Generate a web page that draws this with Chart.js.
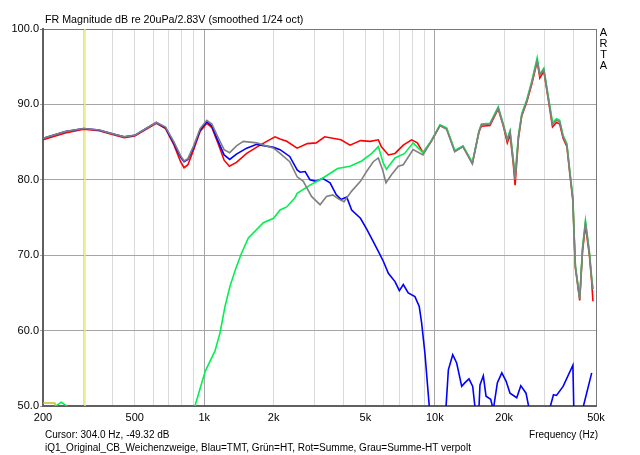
<!DOCTYPE html>
<html>
<head>
<meta charset="utf-8">
<script src="https://cdn.jsdelivr.net/npm/chart.js@4.4.1/dist/chart.umd.min.js"></script>
<style>
  body { margin: 0; background: #fff; }
  #wrap { position: relative; width: 640px; height: 455px; background: #fff; font-family: "Liberation Sans", Arial, sans-serif; font-size: 10px; color: #000; }
  #wrap canvas { position: absolute; left: 0; top: 0; }
  .txt { position: absolute; white-space: nowrap; line-height: 13px; }
  #arta { position: absolute; left: 599px; top: 27px; line-height: 11px; font-size: 11px; text-align: center; width: 9px; }
</style>
</head>
<body>
<div id="wrap">
  <canvas id="myFrChart" width="640" height="455"></canvas>
  <div class="txt" style="left:45px; top:13px; font-size:10.7px;">FR Magnitude dB re 20uPa/2.83V (smoothed 1/24 oct)</div>
  <div id="arta">A<br>R<br>T<br>A</div>
  <div class="txt" style="left:45px; top:428px;">Cursor: 304.0 Hz, -49.32 dB</div>
  <div class="txt" style="right:42px; top:428px;">Frequency (Hz)</div>
  <div class="txt" style="left:45px; top:441px;">iQ1_Original_CB_Weichenzweige, Blau=TMT, Grün=HT, Rot=Summe, Grau=Summe-HT verpolt</div>
</div>
<script>
// tick values / labels
var xTicks = [200, 300, 400, 500, 600, 700, 800, 900, 1000, 2000, 3000, 4000, 5000, 6000, 7000, 8000, 9000, 10000, 20000, 30000, 40000, 50000];
var xLabels = {200: '200', 500: '500', 1000: '1k', 2000: '2k', 5000: '5k', 10000: '10k', 20000: '20k', 50000: '50k'};
var cursorFreq = 304;

// Rot = Summe
var redFreq = [200, 250, 300, 350, 400, 450, 500, 560, 620, 680, 740, 790, 818, 850, 900, 960, 1026, 1080, 1150, 1220, 1286, 1380, 1528, 1746, 2028, 2133, 2280, 2530, 2800, 3060, 3330, 3920, 4290, 4760, 5250, 5690, 5860, 6290, 6720, 7300, 7930, 8400, 8890, 9650, 10530, 11250, 12200, 13250, 14550, 15550, 15930, 17340, 18840, 19800, 20620, 21200, 21910, 22290, 23050, 23830, 25030, 26290, 27790, 28540, 29700, 31000, 32400, 33700, 34800, 36000, 37400, 38400, 39700, 40100, 40700, 42500, 43700, 45000, 46800, 47900, 48500];
var redDb = [85.3, 86.2, 86.7, 86.5, 86.0, 85.6, 85.8, 86.7, 87.5, 86.8, 84.6, 82.4, 81.6, 82.0, 84.0, 86.4, 87.5, 86.9, 84.8, 82.6, 81.8, 82.3, 83.5, 84.6, 85.7, 85.4, 85.1, 84.2, 84.8, 84.9, 85.7, 85.3, 84.6, 85.2, 85.1, 85.3, 84.4, 83.3, 83.5, 84.6, 85.3, 84.9, 83.6, 85.1, 87.2, 86.8, 83.8, 84.4, 82.2, 86.4, 87.1, 87.2, 89.4, 87.2, 84.9, 86.0, 82.0, 79.3, 85.5, 88.5, 90.3, 92.6, 95.7, 93.5, 94.4, 90.8, 87.0, 87.6, 87.4, 85.5, 84.4, 81.1, 77.2, 73.2, 68.3, 64.0, 70.5, 74.0, 70.0, 66.5, 63.9];

// Grau = Summe-HT verpolt
var grayFreq = [200, 250, 300, 350, 400, 450, 500, 560, 620, 680, 740, 790, 818, 850, 900, 960, 1026, 1080, 1150, 1220, 1290, 1380, 1478, 1689, 2000, 2133, 2349, 2530, 2690, 2920, 3180, 3390, 3610, 3850, 4040, 4360, 4760, 5060, 5410, 5690, 5940, 6140, 6500, 6950, 7300, 8050, 8890, 9650, 10530, 11250, 12200, 13250, 14550, 15550, 15930, 17340, 18840, 19800, 20620, 21200, 21910, 22290, 23050, 23830, 25030, 26290, 27790, 28540, 29700, 31000, 32400, 33700, 34800, 36000, 37400, 38400, 39700, 40100, 40700, 42500, 43700, 45000, 46800, 47900, 48500];
var grayDb = [85.5, 86.4, 86.8, 86.6, 86.1, 85.7, 85.9, 86.8, 87.6, 87.0, 85.0, 83.2, 82.5, 82.8, 84.5, 86.8, 87.9, 87.4, 85.6, 84.0, 83.6, 84.5, 85.1, 84.9, 84.2, 83.5, 82.4, 80.4, 79.8, 77.8, 76.7, 77.8, 78.0, 77.4, 77.1, 78.5, 79.8, 81.1, 82.4, 82.9, 81.3, 79.6, 80.7, 81.8, 82.0, 84.0, 83.3, 85.1, 87.2, 86.7, 83.7, 84.4, 82.1, 86.4, 87.3, 87.4, 89.5, 87.3, 85.3, 86.4, 82.4, 80.0, 85.7, 88.6, 90.4, 92.8, 95.8, 93.9, 94.6, 91.0, 87.3, 87.9, 87.7, 85.7, 84.6, 81.3, 77.4, 73.4, 68.5, 64.2, 70.7, 74.3, 70.3, 66.8, 65.5];

// Grün = HT
var greenFreq = [200, 215, 227, 240, 254, 270, 300, 400, 600, 800, 912, 1010, 1114, 1171, 1231, 1294, 1370, 1444, 1554, 1805, 2000, 2133, 2280, 2476, 2530, 2876, 3260, 3790, 4290, 4820, 5330, 5690, 5980, 6170, 6720, 7400, 8050, 8890, 9650, 10530, 11250, 12200, 13250, 14550, 15550, 15930, 17340, 18840, 19800, 20620, 21200, 21910, 22290, 23050, 23830, 25030, 26290, 27790, 28540, 29700, 31000, 32400, 33700, 34800, 36000, 37400, 38400, 39700, 40100, 40700, 42500, 43700, 45000, 46800, 47900, 48500];
var greenDb = [48.5, 49.2, 50.0, 50.5, 50.0, 49.0, 47.5, 46.0, 45.0, 47.0, 50.0, 54.6, 57.3, 59.7, 63.2, 65.9, 68.2, 70.1, 72.3, 74.3, 74.9, 76.0, 76.4, 77.6, 78.2, 79.3, 80.2, 81.5, 81.8, 82.5, 83.5, 84.4, 82.2, 81.4, 82.9, 83.5, 84.9, 83.6, 85.2, 87.3, 86.9, 83.9, 84.5, 82.3, 86.5, 87.4, 87.5, 89.7, 87.4, 85.4, 86.5, 82.6, 80.6, 85.9, 88.8, 90.6, 93.0, 96.2, 94.0, 94.8, 91.2, 87.6, 88.1, 87.9, 85.9, 84.8, 81.5, 77.6, 73.6, 68.6, 64.3, 71.0, 74.6, 70.5, 67.0, 65.5];

// Blau = TMT
var blueFreq = [200, 250, 300, 350, 400, 450, 500, 560, 620, 680, 740, 790, 818, 850, 900, 960, 1026, 1080, 1150, 1220, 1290, 1380, 1528, 1689, 2000, 2133, 2349, 2530, 2606, 2740, 2876, 3060, 3260, 3514, 3740, 3920, 4150, 4360, 4760, 5060, 5410, 5690, 5980, 6290, 6720, 7020, 7300, 7670, 8200, 8560, 8770, 9060, 9360, 9700, 10300, 10900, 11190, 11450, 11960, 12440, 13080, 13520, 14070, 14600, 15100, 15500, 15700, 16230, 16680, 17470, 17930, 18680, 19520, 20370, 21190, 22660, 23600, 24860, 25700, 27000, 29000, 31400, 32700, 33700, 36000, 39700, 40100, 41500, 43700, 47900];
var blueDb = [85.5, 86.4, 86.8, 86.6, 86.1, 85.7, 85.9, 86.8, 87.6, 86.9, 84.8, 83.0, 82.4, 82.7, 84.3, 86.6, 87.7, 87.1, 85.1, 83.3, 82.7, 83.4, 84.2, 84.7, 84.3, 84.0, 83.1, 81.3, 81.0, 81.1, 80.0, 79.8, 80.2, 79.6, 78.0, 77.4, 77.7, 76.0, 74.9, 73.5, 71.8, 70.5, 69.2, 67.6, 66.5, 65.3, 66.1, 65.0, 64.5, 63.2, 61.0, 57.0, 51.7, 46.0, 42.0, 45.0, 50.0, 54.8, 56.8, 55.7, 52.6, 53.1, 53.6, 52.6, 48.5, 49.0, 52.8, 54.0, 51.3, 50.9, 49.5, 53.1, 54.4, 53.3, 51.7, 51.1, 52.7, 51.7, 49.5, 45.0, 44.0, 49.5, 51.5, 51.4, 52.6, 55.4, 49.0, 44.0, 49.5, 54.4];

// kleine gelbe Markierung unten links
var markFreq = [200, 225, 232];
var markDb = [50.4, 50.4, 48.0];

function pts(f, v) {
  return f.map(function (x, i) { return {x: x, y: v[i]}; });
}

document.addEventListener('DOMContentLoaded', () => {

//FR CHART
  var ctx = document.getElementById('myFrChart').getContext('2d');

  var lineStyle = {pointRadius: 0, borderWidth: 1.6, tension: 0, fill: false};

  var chart = new Chart(ctx, {
    type: 'line',
    data: {
      datasets: [
        Object.assign({label: 'Grau', data: pts(grayFreq, grayDb), borderColor: 'rgb(128, 128, 128)'}, lineStyle),
        Object.assign({label: 'Gruen', data: pts(greenFreq, greenDb), borderColor: 'rgb(0, 240, 80)'}, lineStyle),
        Object.assign({label: 'Blau', data: pts(blueFreq, blueDb), borderColor: 'rgb(0, 0, 255)'}, lineStyle),
        Object.assign({label: 'Rot', data: pts(redFreq, redDb), borderColor: 'rgb(255, 0, 0)'}, lineStyle),
        Object.assign({label: 'Mark', data: pts(markFreq, markDb), borderColor: 'rgb(200, 190, 40)'}, lineStyle),
        Object.assign({label: 'Cursor', data: [{x: cursorFreq, y: 50}, {x: cursorFreq, y: 100}], borderColor: 'rgb(240, 232, 120)'}, lineStyle, {borderWidth: 1.5})
      ]
    },
    options: {
      responsive: false,
      animation: false,
      layout: {padding: {left: 0, right: 44, top: 29, bottom: 0}},
      plugins: {legend: {display: false}, tooltip: {enabled: false}},
      scales: {
        x: {
          type: 'logarithmic',
          min: 200,
          max: 50000,
          afterBuildTicks: function (scale) {
            scale.ticks = xTicks.map(function (v) { return {value: v}; });
          },
          afterFit: function (scale) { scale.height = 49; },
          ticks: {
            autoSkip: false,
            maxRotation: 0,
            padding: 5,
            color: '#000',
            font: {family: 'Liberation Sans', size: 11},
            callback: function (v) { return xLabels[v] || ''; }
          },
          grid: {
            drawTicks: false,
            color: function (c) {
              var v = c.tick ? c.tick.value : 0;
              if (v === 50000) return 'rgb(120, 120, 120)';
              if (v === 1000 || v === 10000) return 'rgb(165, 165, 165)';
              return 'rgb(218, 218, 218)';
            }
          },
          border: {color: 'rgb(96, 96, 96)', width: 2}
        },
        y: {
          min: 50,
          max: 100,
          afterFit: function (scale) { scale.width = 43; },
          ticks: {
            stepSize: 10,
            padding: 1,
            color: '#000',
            font: {family: 'Liberation Sans', size: 11},
            callback: function (v) { return v.toFixed(1); }
          },
          grid: {
            tickLength: 3,
            color: function (c) {
              var v = c.tick ? c.tick.value : 0;
              if (v === 100) return 'rgb(120, 120, 120)';
              return 'rgb(165, 165, 165)';
            }
          },
          border: {color: 'rgb(96, 96, 96)', width: 2}
        }
      }
    }
  });

});
</script>
</body>
</html>
